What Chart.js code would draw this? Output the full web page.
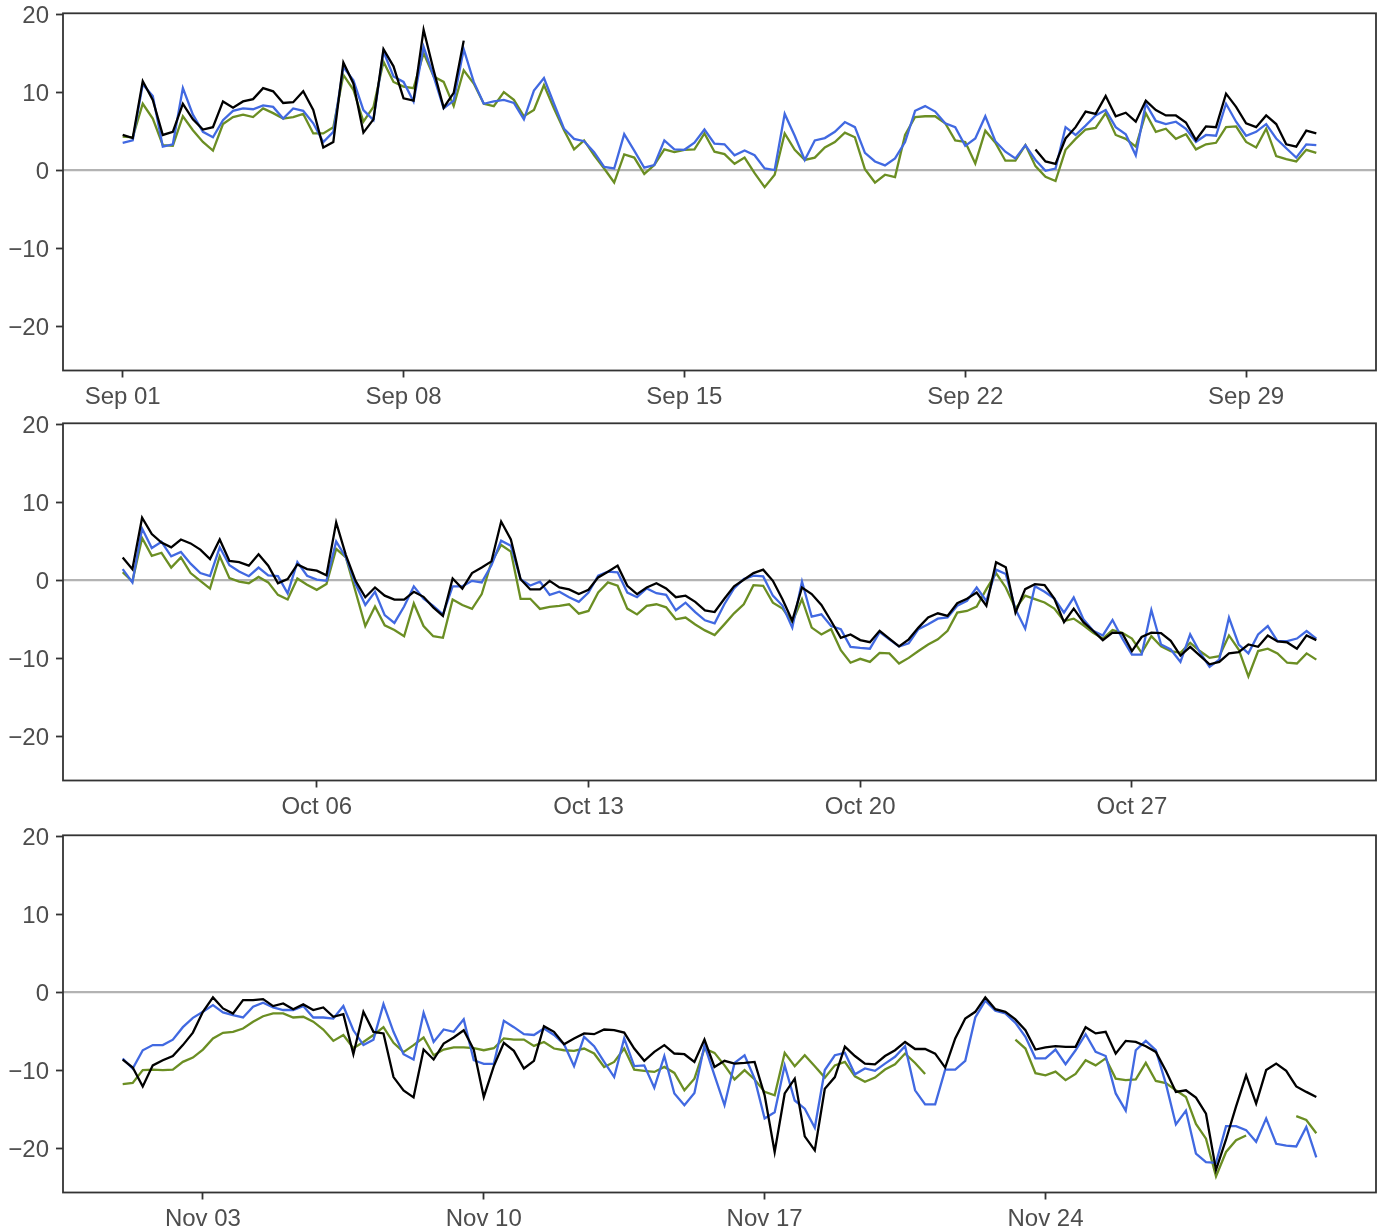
<!DOCTYPE html>
<html>
<head>
<meta charset="utf-8">
<script src="https://cdn.jsdelivr.net/npm/chart.js@4.4.1/dist/chart.umd.min.js"></script>
<style>
  html, body { margin: 0; padding: 0; background: #fff; }
  #wrap { position: relative; width: 1385px; height: 1232px; }
  #wrap canvas { position: absolute; left: 0; }
</style>
</head>
<body>
<div id="wrap">
  <canvas id="sep" width="1385" height="410" style="top:0;width:1385px;height:410px"></canvas>
  <canvas id="oct" width="1385" height="412" style="top:410px;width:1385px;height:412px"></canvas>
  <canvas id="nov" width="1385" height="410" style="top:822px;width:1385px;height:410px"></canvas>
</div>
<script>
// one value every 6 hours, starting at 00:00 on the 1st of each month
const STEP_DAYS = 0.25;

const yTicks = [-20, -10, 0, 10, 20];

const sepTickDays = [0, 7, 14, 21, 28];
const sepTickLabels = ['Sep 01', 'Sep 08', 'Sep 15', 'Sep 22', 'Sep 29'];
const octTickDays = [5, 12, 19, 26];
const octTickLabels = ['Oct 06', 'Oct 13', 'Oct 20', 'Oct 27'];
const novTickDays = [2, 9, 16, 23];
const novTickLabels = ['Nov 03', 'Nov 10', 'Nov 17', 'Nov 24'];

// --- September ---
const sepBlack = [
  4.5, 4.1, 11.4, 9.0, 4.5, 4.9, 8.5, 6.5, 5.2, 5.5, 8.8, 8.0, 8.8, 9.1, 10.5, 10.1, 8.6, 8.7, 10.1, 7.7,
  2.9, 3.6, 13.8, 11.1, 4.8, 6.5, 15.5, 13.3, 9.2, 8.9, 18.0, 12.8, 8.0, 9.9, 16.6,
  null, null, null, null, null, null, null, null, null, null, null, null, null, null,
  null, null, null, null, null, null, null, null, null, null, null, null, null, null,
  null, null, null, null, null, null, null, null, null, null, null, null, null, null,
  null, null, null, null, null, null, null, null, null, null, null, null, null, null,
  2.65, 1.1, 0.8, 4.05, 5.5, 7.5, 7.2, 9.5, 6.9, 7.35, 6.2, 8.9, 7.7, 7.0, 7.0, 6.1, 3.85, 5.6, 5.5,
  9.8, 8.1, 6.0, 5.5, 7.0, 5.9, 3.3, 3.0, 5.05, 4.7
];
const sepBlue = [
  3.5, 3.8, 11.0, 9.5, 3.0, 3.3, 10.5, 7.1, 4.9, 4.2, 6.4, 7.6, 7.9, 7.8, 8.3, 8.1, 6.6, 7.9, 7.6, 6.0,
  3.6, 4.9, 13.2, 11.5, 7.7, 6.4, 15.2, 12.0, 11.3, 8.8, 15.8, 12.0, 7.9, 8.9, 15.5, 11.3, 8.5, 8.8, 9.0,
  8.6, 6.5, 10.2, 11.8, 8.5, 5.3, 4.0, 3.7, 2.3, 0.4, 0.2, 4.6, 2.5, 0.3, 0.65, 3.8, 2.65, 2.6, 3.5, 5.2,
  3.4, 3.3, 1.9, 2.5, 1.9, 0.2, 0.0, 7.2, 4.4, 1.3, 3.8, 4.1, 4.9, 6.15, 5.5, 2.2, 1.1, 0.6, 1.5, 3.6,
  7.6, 8.2, 7.5, 6.0, 5.5, 3.1, 4.05, 6.9, 3.7, 2.35, 1.5, 3.2, 1.3, -0.1, 0.2, 5.5, 4.5, 5.7, 7.0, 7.7,
  5.5, 4.6, 1.9, 8.5, 6.3, 5.9, 6.2, 5.3, 3.6, 4.5, 4.4, 8.5, 6.2, 4.4, 4.9, 5.9, 4.05, 2.8, 1.6, 3.3, 3.2
];
const sepGreen = [
  4.3, 4.2, 8.5, 6.6, 3.2, 3.1, 6.9, 5.1, 3.6, 2.5, 5.9, 6.8, 7.1, 6.8, 7.9, 7.3, 6.6, 6.8, 7.2, 4.7,
  4.7, 5.5, 12.2, 10.3, 6.2, 8.1, 13.9, 11.3, 10.7, 10.5, 15.0, 12.0, 11.3, 8.2, 12.8, 11.1, 8.5, 8.2, 10.0,
  9.0, 6.9, 7.7, 10.9, 7.9, 5.1, 2.65, 3.8, 1.9, 0.2, -1.6, 2.0, 1.6, -0.5, 0.65, 2.65, 2.3, 2.6, 2.65, 4.7,
  2.35, 2.05, 0.8, 1.6, -0.4, -2.2, -0.6, 4.7, 2.6, 1.3, 1.6, 2.9, 3.6, 4.8, 4.2, 0.1, -1.6, -0.6, -0.9, 4.5,
  6.8, 6.9, 6.9, 6.0, 3.8, 3.6, 0.85, 5.05, 3.5, 1.2, 1.2, 3.2, 0.5, -0.85, -1.4, 2.6, 4.0, 5.2, 5.4, 7.3,
  4.5, 4.0, 3.0, 7.3, 4.9, 5.3, 4.0, 4.6, 2.65, 3.3, 3.5, 5.5, 5.6, 3.6, 2.9, 5.3, 1.8, 1.4, 1.1, 2.6, 2.2
];

// --- October ---
const octBlack = [
  2.9, 1.4, 8.0, 5.9, 4.8, 4.2, 5.2, 4.7, 3.9, 2.7, 5.2, 2.45, 2.3, 1.85, 3.3, 1.85, -0.4, 0.13, 2.0, 1.4,
  1.2, 0.6, 7.4, 3.2, -0.1, -2.2, -0.95, -2.0, -2.5, -2.5, -1.5, -2.15, -3.5, -4.6, 0.2, -1.1, 0.9, 1.6, 2.4, 7.5,
  5.2, 0.1, -1.2, -1.2, -0.1, -0.95, -1.2, -1.8, -1.25, 0.34, 1.07, 1.85, -0.73, -1.8, -0.95, -0.4, -1.08, -2.2, -2.0, -2.8,
  -3.9, -4.1, -2.4, -0.8, 0.04, 0.9, 1.33, -0.1, -2.5, -5.2, -0.95, -1.8, -3.2, -5.25, -7.4, -6.97, -7.7, -7.96, -6.5, -7.5,
  -8.5, -7.6, -6.1, -4.8, -4.26, -4.6, -2.97, -2.4, -1.6, -3.3, 2.28, 1.63, -4.17, -1.16, -0.52, -0.65, -2.37, -5.4, -3.66, -5.4,
  -6.5, -7.7, -6.75, -6.8, -9.1, -7.3, -6.75, -6.8, -7.8, -9.68, -8.56, -9.68, -10.8, -10.5, -9.4, -9.25, -8.26, -8.56, -7.1, -7.87,
  -8.0, -8.8, -7.1, -7.7
];
const octBlue = [
  1.4, -0.3, 6.6, 4.1, 4.9, 3.05, 3.6, 2.1, 0.9, 0.5, 4.2, 1.9, 1.1, 0.5, 1.6, 0.6, 0.5, -1.7, 2.3, 0.55,
  0.05, -0.1, 4.95, 2.9, -0.5, -3.2, -1.5, -4.5, -5.5, -3.4, -0.8, -2.4, -3.3, -4.4, -0.8, -0.8, -0.1, -0.3, 1.9, 5.05,
  4.4, 0.1, -0.7, -0.2, -1.9, -1.5, -2.2, -2.8, -1.6, 0.56, 1.07, 0.99, -1.6, -2.2, -1.08, -1.68, -1.9, -3.87, -2.9, -4.1,
  -5.16, -5.55, -3.1, -1.08, 0.13, 0.56, 0.47, -2.0, -3.3, -6.1, -0.2, -4.7, -4.4, -5.9, -6.3, -8.56, -8.7, -8.8, -6.67, -7.6,
  -8.5, -8.1, -6.3, -5.68, -4.95, -4.8, -3.3, -2.67, -0.95, -2.67, 1.33, 0.77, -3.74, -6.24, -0.8, -1.5, -2.37, -4.17, -2.24, -5.03,
  -6.5, -7.1, -5.12, -7.5, -9.55, -9.55, -3.83, -8.26, -8.9, -10.5, -6.97, -9.25, -11.14, -10.2, -4.82, -8.26, -9.4, -6.97, -5.9, -7.83,
  -7.83, -7.5, -6.54, -7.5
];
const octGreen = [
  1.0, -0.2, 5.4, 3.1, 3.5, 1.6, 2.9, 0.9, -0.1, -1.1, 3.05, 0.25, -0.2, -0.4, 0.4, -0.3, -1.9, -2.5, 0.2, -0.6,
  -1.25, -0.5, 4.0, 2.9, -1.5, -5.9, -3.4, -5.8, -6.4, -7.2, -3.0, -5.9, -7.2, -7.4, -2.5, -3.2, -3.7, -1.8, 2.3, 4.5,
  3.65, -2.4, -2.4, -3.7, -3.44, -3.3, -3.1, -4.3, -3.96, -1.6, -0.3, -0.73, -3.66, -4.4, -3.3, -3.1, -3.5, -5.03, -4.8, -5.7,
  -6.45, -7.05, -5.68, -4.26, -3.1, -0.65, -0.73, -2.9, -3.66, -5.4, -2.45, -6.1, -6.97, -6.3, -8.99, -10.6, -10.1, -10.5, -9.33, -9.4,
  -10.7, -9.98, -9.1, -8.26, -7.6, -6.5, -4.17, -3.96, -3.4, -1.16, 0.9, -0.95, -3.66, -2.0, -2.45, -2.88, -3.66, -5.25, -4.95, -5.8,
  -6.75, -7.5, -6.4, -6.75, -7.5, -9.33, -7.2, -8.5, -9.1, -9.33, -8.04, -9.1, -9.98, -9.76, -7.1, -8.9, -12.35, -9.1, -8.8, -9.4,
  -10.6, -10.7, -9.4, -10.2
];

// --- November ---
const novBlack = [
  -8.65, -9.68, -12.1, -9.4, -8.74, -8.2, -6.8, -5.2, -2.53, -0.69, -2.1, -2.74, -1.03, -1.03, -0.9, -1.8, -1.46, -2.2, -1.58, -2.3,
  -1.97, -3.17, -2.83, -7.97, -2.53, -5.1, -5.3, -10.9, -12.6, -13.5, -7.37, -8.65, -6.6, -5.83, -4.9, -7.37, -13.45, -9.5, -6.5, -7.54,
  -9.8, -8.82, -4.37, -5.1, -6.68, -5.95, -5.3, -5.4, -4.8, -4.88, -5.2, -7.24, -8.82, -7.67, -6.8, -7.88, -7.97, -8.96, -6.08, -9.6,
  -8.82, -9.17, -9.08, -8.96, -13.24, -20.5, -13.0, -11.1, -18.5, -20.3, -12.4, -10.9, -7.0, -8.2, -9.17, -9.26, -8.2, -7.46, -6.4, -7.3,
  -7.3, -7.9, -9.68, -5.95, -3.4, -2.53, -0.69, -2.2, -2.53, -3.5, -4.9, -7.37, -7.1, -6.94, -7.03, -7.03, -4.5, -5.3, -5.1, -7.9,
  -6.26, -6.4, -6.94, -7.67, -10.1, -12.8, -12.6, -13.54, -15.6, -22.8, -18.9, -14.65, -10.67, -14.3, -10.0, -9.17, -10.1, -12.1, -12.8, -13.45
];
const novBlue = [
  -8.52, -9.8, -7.46, -6.8, -6.8, -6.1, -4.5, -3.3, -2.53, -1.67, -2.6, -2.96, -3.26, -1.88, -1.37, -1.97, -2.3, -2.3, -1.8, -3.26,
  -3.26, -3.4, -1.8, -4.9, -6.8, -6.1, -1.54, -5.1, -7.97, -8.65, -2.66, -6.4, -4.8, -5.1, -3.5, -8.74, -9.2, -9.2, -3.68, -4.5,
  -5.4, -5.5, -4.67, -5.5, -6.68, -9.5, -5.74, -6.94, -8.96, -10.9, -5.95, -9.5, -9.4, -12.26, -8.2, -13.0, -14.5, -12.94, -6.8, -10.67,
  -14.5, -9.08, -8.1, -11.1, -16.2, -15.4, -9.4, -13.9, -14.95, -17.4, -10.0, -8.1, -7.8, -10.54, -9.8, -10.1, -9.17, -8.3, -6.94, -12.6,
  -14.4, -14.4, -9.94, -9.94, -8.82, -3.26, -1.1, -2.4, -2.74, -3.94, -5.74, -8.5, -8.5, -7.37, -9.25, -7.46, -5.4, -7.67, -8.2, -13.0,
  -15.2, -7.46, -6.26, -7.46, -11.74, -16.97, -15.2, -20.7, -21.8, -21.9, -17.2, -17.2, -17.7, -19.2, -16.2, -19.45, -19.7, -19.8, -17.3, -21.2
];
const novGreen = [
  -11.8, -11.66, -10.0, -9.94, -10.0, -9.94, -8.95, -8.4, -7.37, -5.95, -5.23, -5.1, -4.67, -3.8, -3.1, -2.74, -2.74, -3.26, -3.17, -3.8,
  -4.8, -6.26, -5.5, -7.2, -6.4, -5.5, -4.5, -6.5, -7.7, -6.8, -5.83, -8.1, -7.37, -7.1, -7.1, -7.2, -7.46, -7.2, -5.95, -6.1,
  -6.1, -6.9, -6.4, -7.24, -7.46, -7.54, -7.24, -7.88, -9.6, -8.96, -7.24, -9.94, -10.1, -10.24, -9.6, -10.37, -12.6, -11.1, -7.24, -7.8,
  -9.4, -11.2, -10.0, -11.2, -12.8, -13.24, -7.8, -9.5, -8.1, -9.5, -10.97, -9.4, -8.96, -10.8, -11.5, -10.97, -9.94, -9.26, -7.88, -9.1,
  -10.5, null, null, null, null, null, null, null, null, -6.1, -7.24, -10.4, -10.67, -10.2, -11.3, -10.5, -8.74, -9.4, -8.5, -11.1,
  -11.3, -11.2, -9.08, -11.4, -11.66, -12.6, -13.45, -16.9, -18.8, -23.65, -20.5, -19.0, -18.4, null, null, null, null, -15.9, -16.4, -18.1
];

const COLORS = { black: '#000000', blue: '#4169E1', green: '#6B8E23' };
const TEXT_COLOR = '#4D4D4D';
const FRAME_COLOR = '#333333';
const FONT = { family: '"Liberation Sans", Arial, Helvetica, sans-serif', size: 24 };
const PLOT_TOP = 13.3;
const PLOT_BOTTOM = 370.5;

const toPoints = vals => vals.map((v, i) => ({ x: i * STEP_DAYS, y: v }));

// zero reference line under the data, panel border over it
const panelFrame = {
  id: 'panelFrame',
  beforeDatasetsDraw(chart) {
    const { ctx, chartArea: a, scales: { y } } = chart;
    const y0 = y.getPixelForValue(0);
    ctx.save();
    ctx.strokeStyle = '#B3B3B3';
    ctx.lineWidth = 2.2;
    ctx.beginPath();
    ctx.moveTo(a.left, y0);
    ctx.lineTo(a.right, y0);
    ctx.stroke();
    ctx.restore();
  },
  afterDatasetsDraw(chart) {
    const { ctx, chartArea: a } = chart;
    ctx.save();
    ctx.strokeStyle = FRAME_COLOR;
    ctx.lineWidth = 1.8;
    ctx.strokeRect(a.left, a.top, a.right - a.left, a.bottom - a.top);
    ctx.restore();
  }
};

function drawPanel(id, black, blue, green, tickDays, tickLabels) {
  const canvas = document.getElementById(id);
  const last = (black.length - 1) * STEP_DAYS;
  const expand = last * 0.05;
  const line = (vals, color) => ({ data: toPoints(vals), borderColor: color, borderWidth: 2.3, pointRadius: 0, fill: false, tension: 0 });

  return new Chart(canvas, {
    type: 'line',
    data: { datasets: [line(black, COLORS.black), line(blue, COLORS.blue), line(green, COLORS.green)] },
    options: {
      responsive: false,
      animation: false,
      devicePixelRatio: 1,
      layout: { padding: { top: PLOT_TOP, right: 9, left: 0, bottom: 0 } },
      plugins: { legend: { display: false }, tooltip: { enabled: false } },
      scales: {
        x: {
          type: 'linear',
          min: -expand,
          max: last + expand,
          afterBuildTicks: s => { s.ticks = tickDays.map(v => ({ value: v })); },
          afterFit: s => { s.height = canvas.height - PLOT_BOTTOM; s.paddingLeft = 0; s.paddingRight = 0; },
          grid: { drawOnChartArea: false, drawTicks: true, tickLength: 7, tickColor: FRAME_COLOR, tickWidth: 1.8 },
          border: { display: false },
          ticks: {
            autoSkip: false, maxRotation: 0, padding: 5, color: TEXT_COLOR, font: FONT,
            callback: v => tickLabels[tickDays.indexOf(v)]
          }
        },
        y: {
          min: -25.7,
          max: 20.1,
          afterBuildTicks: s => { s.ticks = yTicks.map(v => ({ value: v })); },
          afterFit: s => { s.width = 63; s.paddingTop = 0; s.paddingBottom = 0; },
          grid: { drawOnChartArea: false, drawTicks: true, tickLength: 7, tickColor: FRAME_COLOR, tickWidth: 1.8 },
          border: { display: false },
          ticks: {
            padding: 7, labelOffset: 2, color: TEXT_COLOR, font: FONT,
            callback: v => (v < 0 ? '\u2212' + Math.abs(v) : String(v))
          }
        }
      }
    },
    plugins: [panelFrame]
  });
}

drawPanel('sep', sepBlack, sepBlue, sepGreen, sepTickDays, sepTickLabels);
drawPanel('oct', octBlack, octBlue, octGreen, octTickDays, octTickLabels);
drawPanel('nov', novBlack, novBlue, novGreen, novTickDays, novTickLabels);
</script>
</body>
</html>
